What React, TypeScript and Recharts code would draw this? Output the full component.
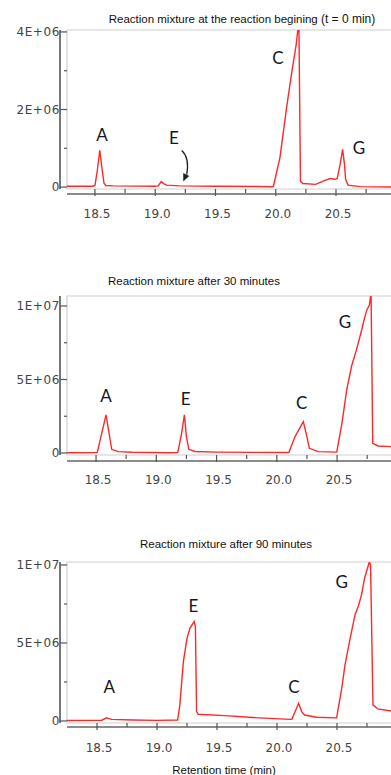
import React from 'react';
import { LineChart, Line, XAxis, YAxis, ReferenceArea, ReferenceDot } from 'recharts';

// ---- shared axis ticks ----
const xTicks = [18.5, 18.75, 19, 19.25, 19.5, 19.75, 20, 20.25, 20.5, 20.75];
const xTickLabels = ['18.5', '', '19.0', '', '19.5', '', '20.0', '', '20.5', ''];

const yTicksSmall = [0, 1e6, 2e6, 3e6, 4e6];
const yLabelsSmall = ['0', '', '2E+06', '', '4E+06'];
const yTicksLarge = [0, 2.5e6, 5e6, 7.5e6, 1e7];
const yLabelsLarge = ['0', '', '5E+06', '', '1E+07'];

// ---- t = 0 min ----
const t0Time = [18.26, 18.48, 18.5, 18.52, 18.54, 18.56, 18.575, 18.59, 18.65, 19.0, 19.025, 19.05, 19.07, 19.095, 19.2, 19.5, 19.98, 20.035, 20.09, 20.13, 20.17, 20.192, 20.205, 20.225, 20.33, 20.41, 20.45, 20.49, 20.51, 20.535, 20.555, 20.57, 20.58, 20.6, 20.7, 20.97];
const t0Signal = [0.02e6, 0.02e6, 0.04e6, 0.44e6, 0.95e6, 0.44e6, 0.1e6, 0.04e6, 0.03e6, 0.02e6, 0.03e6, 0.14e6, 0.09e6, 0.05e6, 0.03e6, 0.02e6, 0.01e6, 0.76e6, 2.05e6, 2.9e6, 3.68e6, 4.3e6, 0.15e6, 0.09e6, 0.07e6, 0.17e6, 0.22e6, 0.2e6, 0.22e6, 0.6e6, 0.97e6, 0.6e6, 0.2e6, 0.05e6, 0.01e6, 0.0];
const t0Peaks = ['A', 'E', 'C', 'G'];
const t0PeakX = [18.558, 19.156, 20.019, 20.69];
const t0PeakY = [1.34e6, 1.26e6, 3.33e6, 1.0e6];
const t0ArrowX = 19.22;
const t0ArrowY = 0.94e6;

// ---- after 30 minutes ----
const t30Time = [18.26, 18.51, 18.547, 18.583, 18.608, 18.63, 18.685, 18.8, 19.1, 19.178, 19.21, 19.233, 19.25, 19.27, 19.32, 19.5, 19.8, 20.1, 20.15, 20.22, 20.25, 20.27, 20.345, 20.497, 20.54, 20.58, 20.62, 20.66, 20.705, 20.72, 20.745, 20.768, 20.782, 20.796, 20.84, 20.97];
const t30Signal = [0.02e6, 0.03e6, 1.34e6, 2.59e6, 1.34e6, 0.25e6, 0.09e6, 0.05e6, 0.02e6, 0.03e6, 1.34e6, 2.59e6, 1.1e6, 0.25e6, 0.1e6, 0.06e6, 0.04e6, 0.03e6, 1.1e6, 2.13e6, 1.1e6, 0.32e6, 0.09e6, 0.06e6, 2.0e6, 4.3e6, 5.9e6, 7.0e6, 8.4e6, 8.93e6, 9.7e6, 10.07e6, 10.9e6, 0.66e6, 0.48e6, 0.42e6];
const t30Peaks = ['A', 'E', 'C', 'G'];
const t30PeakX = [18.583, 19.244, 20.207, 20.566];
const t30PeakY = [3.88e6, 3.65e6, 3.42e6, 8.93e6];

// ---- after 90 minutes ----
const t90Time = [18.25, 18.54, 18.58, 18.62, 18.8, 19.0, 19.172, 19.19, 19.22, 19.25, 19.275, 19.31, 19.32, 19.33, 19.344, 19.567, 19.8, 20.11, 20.125, 20.18, 20.206, 20.23, 20.33, 20.497, 20.54, 20.567, 20.61, 20.65, 20.68, 20.705, 20.73, 20.77, 20.78, 20.8, 20.84, 20.97];
const t90Signal = [0.03e6, 0.05e6, 0.2e6, 0.1e6, 0.06e6, 0.04e6, 0.06e6, 1.0e6, 3.8e6, 5.3e6, 5.95e6, 6.37e6, 6.05e6, 0.6e6, 0.43e6, 0.34e6, 0.22e6, 0.1e6, 0.12e6, 1.13e6, 0.6e6, 0.38e6, 0.24e6, 0.2e6, 2.1e6, 3.6e6, 5.3e6, 6.8e6, 7.4e6, 8.1e6, 9.15e6, 10.2e6, 10.0e6, 1.03e6, 0.77e6, 0.62e6];
const t90Peaks = ['A', 'E', 'C', 'G'];
const t90PeakX = [18.603, 19.303, 20.142, 20.539];
const t90PeakY = [2.2e6, 7.37e6, 2.2e6, 8.93e6];

const toRows = (ts: number[], vs: number[]) => ts.map((t, i) => ({ t, v: vs[i] }));

const makeYTick = (ticks: number[], labels: string[]) => (props: any) => {
  const { x, y, payload } = props;
  const i = ticks.indexOf(payload.value);
  const label = i >= 0 ? labels[i] : '';
  const major = label !== '';
  return (
    <g>
      <line x1={x} x2={x - (major ? 7 : 3)} y1={y} y2={y} stroke="#555" strokeWidth={1.2} />
      {major && (
        <text x={x - 7} y={y} dy="0.36em" textAnchor="end" fontSize={12} letterSpacing={0.6} fontFamily="DejaVu Sans" fill="#444">
          {label}
        </text>
      )}
    </g>
  );
};

const XTick = (props: any) => {
  const { x, y, payload } = props;
  const i = xTicks.indexOf(payload.value);
  const label = i >= 0 ? xTickLabels[i] : '';
  const major = label !== '';
  return (
    <g>
      <line x1={x} x2={x} y1={y} y2={y + (major ? 7 : 4)} stroke="#555" strokeWidth={1.2} />
      {major && (
        <text x={x + 2} y={y + 25} dy="0.36em" textAnchor="middle" fontSize={12} fontFamily="DejaVu Sans" fill="#444">
          {label}
        </text>
      )}
    </g>
  );
};

const PeakLetter = (text: string) => (props: any) => (
  <text x={props.cx} y={props.cy} dy="0.36em" textAnchor="middle" fontSize={17} fontFamily="Lato" fill="#151525">
    {text}
  </text>
);

const Arrow = (props: any) => {
  const { cx, cy } = props;
  return (
    <g>
      <path d={`M${cx} ${cy} Q${cx + 8} ${cy + 7} ${cx + 5} ${cy + 24}`} fill="none" stroke="#222" strokeWidth={1.3} />
      <path d={`M${cx + 1.5} ${cy + 31} L${cx + 1.5} ${cy + 22.5} L${cx + 7.5} ${cy + 25.5} Z`} fill="#222" />
    </g>
  );
};

type ChromProps = {
  cls: string;
  top: number;
  height: number;
  plotTop: number;
  plotBottom: number;
  xDomain: number[];
  yDomain: number[];
  yTicks: number[];
  yLabels: string[];
  rows: { t: number; v: number }[];
  peaks: string[];
  peakX: number[];
  peakY: number[];
  children?: React.ReactNode;
};

const Chromatogram = (p: ChromProps) => {
  const width = 400;
  const plotLeft = 67;
  const plotRight = 393;
  const yAxisWidth = 60;
  const xAxisHeight = 30;
  return (
    <div className={p.cls} style={{ position: 'absolute', left: 0, top: p.top }}>
      <LineChart
        width={width}
        height={p.height}
        data={p.rows}
        margin={{ top: p.plotTop - p.top, left: plotLeft - yAxisWidth, right: width - plotRight, bottom: p.height - (p.plotBottom - p.top) - xAxisHeight }}
      >
        <XAxis
          dataKey="t"
          type="number"
          domain={p.xDomain}
          allowDataOverflow
          ticks={xTicks}
          interval={0}
          height={xAxisHeight}
          tickSize={0}
          tickMargin={0}
          tickLine={false}
          tick={XTick}
          axisLine={{ stroke: '#666', strokeWidth: 1.6 }}
        />
        <YAxis
          type="number"
          domain={p.yDomain}
          allowDataOverflow
          ticks={p.yTicks}
          interval={0}
          width={yAxisWidth}
          tickSize={0}
          tickMargin={0}
          tickLine={false}
          tick={makeYTick(p.yTicks, p.yLabels)}
          axisLine={{ stroke: '#555', strokeWidth: 1.6 }}
        />
        <ReferenceArea x1={p.xDomain[0]} x2={p.xDomain[1]} y1={p.yDomain[0]} y2={p.yDomain[1]} fill="none" stroke="#cfcfcf" strokeWidth={1.2} />
        <Line dataKey="v" type="linear" stroke="#ff2828" strokeWidth={1.4} dot={false} isAnimationActive={false} />
        {p.peaks.map((name, i) => (
          <ReferenceDot key={name} x={p.peakX[i]} y={p.peakY[i]} r={0} shape={PeakLetter(name)} />
        ))}
        {p.children}
      </LineChart>
    </div>
  );
};

const titleStyle = (center: number, top: number): React.CSSProperties => ({
  position: 'absolute',
  left: center - 160,
  width: 320,
  top,
  textAlign: 'center',
  fontFamily: 'Liberation Sans',
  fontSize: 11.5,
  lineHeight: '13px',
  color: '#111',
  whiteSpace: 'nowrap',
});

export default function App() {
  return (
    <div style={{ position: 'absolute', left: 0, top: 0, width: 391, height: 775, overflow: 'hidden', background: '#fff' }}>
      <style>{`
        .chrom .recharts-yAxis { transform: translateX(-7px); }
        .c1 .recharts-xAxis { transform: translateY(5px); }
        .c2 .recharts-xAxis { transform: translateY(6px); }
        .c3 .recharts-xAxis { transform: translateY(4px); }
      `}</style>
      <div style={titleStyle(242, 13)}>
        Reaction mixture at the reaction begining <span style={{ fontSize: 12 }}>(t = 0 min)</span>
      </div>
      <Chromatogram
        cls="chrom c1"
        top={0}
        height={230}
        plotTop={30}
        plotBottom={189}
        xDomain={[18.268, 20.973]}
        yDomain={[-0.05e6, 4.05e6]}
        yTicks={yTicksSmall}
        yLabels={yLabelsSmall}
        rows={toRows(t0Time, t0Signal)}
        peaks={t0Peaks}
        peakX={t0PeakX}
        peakY={t0PeakY}
      >
        <ReferenceDot x={t0ArrowX} y={t0ArrowY} r={0} shape={Arrow} />
      </Chromatogram>

      <div style={titleStyle(194, 275)}>Reaction mixture after 30 minutes</div>
      <Chromatogram
        cls="chrom c2"
        top={270}
        height={230}
        plotTop={296}
        plotBottom={455}
        xDomain={[18.259, 20.964]}
        yDomain={[-0.136e6, 10.68e6]}
        yTicks={yTicksLarge}
        yLabels={yLabelsLarge}
        rows={toRows(t30Time, t30Signal)}
        peaks={t30Peaks}
        peakX={t30PeakX}
        peakY={t30PeakY}
      />

      <div style={titleStyle(226, 538)}>Reaction mixture after 90 minutes</div>
      <Chromatogram
        cls="chrom c3"
        top={535}
        height={240}
        plotTop={562}
        plotBottom={723}
        xDomain={[18.25, 20.967]}
        yDomain={[-0.13e6, 10.19e6]}
        yTicks={yTicksLarge}
        yLabels={yLabelsLarge}
        rows={toRows(t90Time, t90Signal)}
        peaks={t90Peaks}
        peakX={t90PeakX}
        peakY={t90PeakY}
      />
      <div style={{ position: 'absolute', left: 124, width: 200, top: 764, textAlign: 'center', fontFamily: 'Liberation Sans', fontSize: 11.5, lineHeight: '13px', color: '#111' }}>
        Retention time (min)
      </div>
    </div>
  );
}
